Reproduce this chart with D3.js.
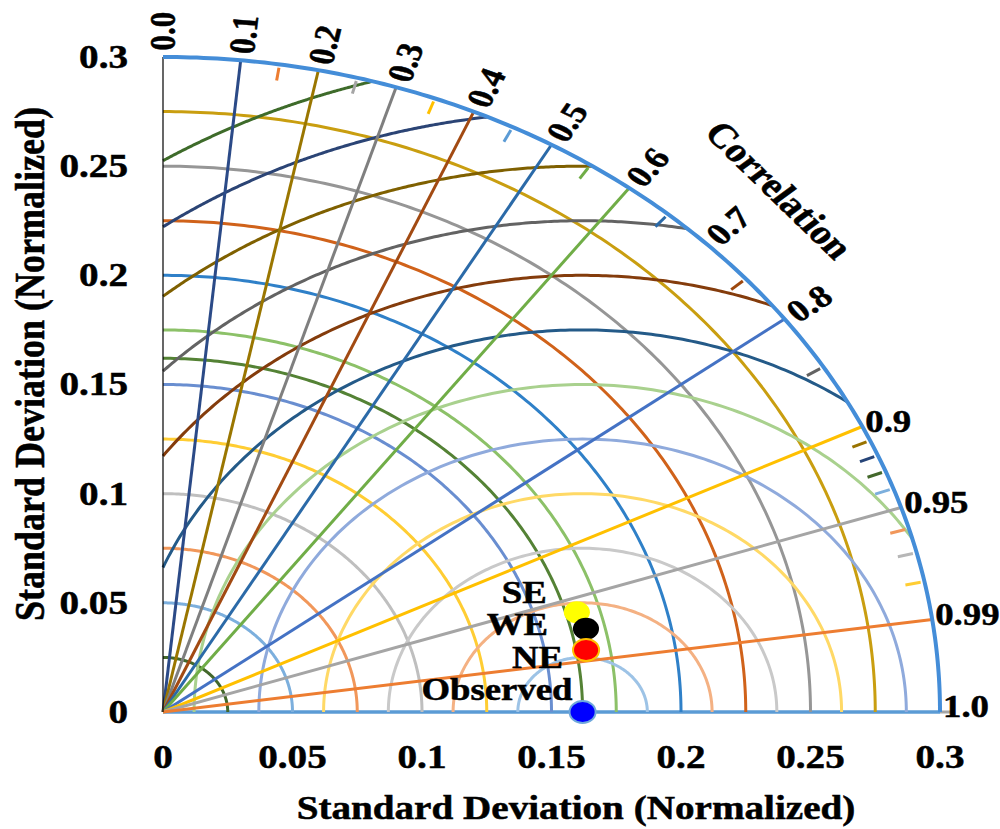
<!DOCTYPE html>
<html lang="en">
<head>
<meta charset="UTF-8">
<script src="https://d3js.org/d3.v7.min.js"></script>
<style>
  html, body { margin: 0; height: 100%; overflow: hidden; background: #fff; }
  text { font-family: "Liberation Serif", "Times New Roman", serif; font-weight: bold; fill: #000;
         stroke: #000; stroke-width: 0.5px; }
</style>
<title>Taylor diagram</title>
</head>
<body>
<svg id="svg"></svg>
<script>
// reference (observed) std and the grid of the diagram
const refStd = 0.162;
const maxStd = 0.3;

const stdArcs = [0.025, 0.05, 0.075, 0.1, 0.125, 0.15, 0.162, 0.175, 0.2, 0.225, 0.25, 0.275];
const stdColors = ['#43682B', '#7CAFDD', '#F1975A', '#BFBFBF', '#FFCD33', '#698ED0', '#548235',
                   '#8CC168', '#2F80C8', '#D0621A', '#969696', '#C99E10'];

const rmsArcs = [0.025, 0.05, 0.075, 0.1, 0.125, 0.15, 0.175, 0.2, 0.225, 0.25, 0.275, 0.3];
const rmsColors = ['#9DC3E6', '#F4B183', '#C9C9C9', '#FFD966', '#8FAADC', '#A9D18E',
                   '#245A88', '#843C0C', '#636363', '#7F6000', '#2B4475', '#3E6B2A'];

const corrLines = [0.1, 0.2, 0.3, 0.4, 0.5, 0.6, 0.8, 0.9, 0.95, 0.99];
const corrColors = ['#2B4A87', '#9A7600', '#7F7F7F', '#A24A12', '#2B6AA8', '#70AD47',
                    '#4472C4', '#FFC000', '#A5A5A5', '#ED7D31'];

const corrLabels = ['0.0', '0.1', '0.2', '0.3', '0.4', '0.5', '0.6', '0.7', '0.8',
                    '0.9', '0.95', '0.99', '1.0'];

const minorTicks = [0.15, 0.25, 0.35, 0.45, 0.55, 0.65, 0.75, 0.85, 0.91, 0.92, 0.93, 0.94, 0.96, 0.97, 0.98];
const minorColors = ['#ED7D31', '#A5A5A5', '#FFC000', '#5B9BD5', '#70AD47', '#2B6AA8', '#9E480E',
                     '#636363', '#997300', '#264478', '#43682B', '#7CAFDD', '#F1975A', '#B7B7B7', '#FFCD33'];

const axisTicks = [0, 0.05, 0.1, 0.15, 0.2, 0.25, 0.3];
const axisTickLabels = ['0', '0.05', '0.1', '0.15', '0.2', '0.25', '0.3'];

const sites = ['SE', 'WE', 'NE', 'Observed'];
const siteStd = [0.1662, 0.1677, 0.1658, 0.162];
const siteCorr = [0.9614, 0.9738, 0.9852, 1.0];
const siteFill = ['#FFFF00', '#000000', '#FF0000', '#0000FF'];
const siteStroke = ['none', 'none', '#FFC000', '#6FA8DC'];

// ---- layout ----
const width = 1000, height = 829;
const svg = d3.select('#svg').attr('width', width).attr('height', height);

const x = d3.scaleLinear().domain([0, maxStd]).range([163, 940]);
const y = d3.scaleLinear().domain([0, maxStd]).range([712, 57]);
const stretch = (x(1) - x(0)) / (y(0) - y(1));   // picture is wider than tall
const line = d3.line().x(d => x(d[0])).y(d => y(d[1]));
const deg = r => r * 180 / Math.PI;

const g = svg.append('g');

// std arcs around origin
const stdPts = r => d3.range(0, 181).map(i => {
  const t = Math.PI / 2 * i / 180;
  return [r * Math.cos(t), r * Math.sin(t)];
});

// rms arcs around the reference point, clipped by the outer arc and the y axis
const rmsPts = R => {
  let a0 = 0, a1 = Math.PI;
  if (refStd + R > maxStd) {
    const px = (maxStd * maxStd + refStd * refStd - R * R) / (2 * refStd);
    a0 = Math.atan2(Math.sqrt(maxStd * maxStd - px * px), px - refStd);
  }
  if (R > refStd) a1 = Math.atan2(Math.sqrt(R * R - refStd * refStd), -refStd);
  return d3.range(0, 181).map(i => {
    const a = a0 + (a1 - a0) * i / 180;
    return [refStd + R * Math.cos(a), R * Math.sin(a)];
  });
};

// x axis line (corr = 1)
g.append('line')
  .attr('x1', x(0)).attr('x2', x(maxStd)).attr('y1', y(0)).attr('y2', y(0))
  .attr('stroke', '#5B9BD5').attr('stroke-width', 3.5);
g.append('line')
  .attr('x1', x(maxStd)).attr('x2', x(maxStd) + 12).attr('y1', y(0)).attr('y2', y(0))
  .attr('stroke', '#A5A5A5').attr('stroke-width', 3);

g.selectAll('path.std').data(stdArcs).join('path')
  .attr('class', 'std')
  .attr('d', d => line(stdPts(d)))
  .attr('fill', 'none')
  .attr('stroke', (d, i) => stdColors[i])
  .attr('stroke-width', 3);

g.selectAll('path.rms').data(rmsArcs).join('path')
  .attr('class', 'rms')
  .attr('d', d => line(rmsPts(d)))
  .attr('fill', 'none')
  .attr('stroke', (d, i) => rmsColors[i])
  .attr('stroke-width', 3);

g.selectAll('path.corr').data(corrLines).join('path')
  .attr('class', 'corr')
  .attr('d', c => line([[0, 0], [maxStd * c, maxStd * Math.sqrt(1 - c * c)]]))
  .attr('stroke', (d, i) => corrColors[i])
  .attr('stroke-width', 3);

g.selectAll('path.minor').data(minorTicks).join('path')
  .attr('class', 'minor')
  .attr('d', c => {
    const s = Math.sqrt(1 - c * c);
    return line([[0.2925 * c, 0.2925 * s], [0.2985 * c, 0.2985 * s]]);
  })
  .attr('stroke', (d, i) => minorColors[i])
  .attr('stroke-width', 3);

// y axis
g.append('line')
  .attr('x1', x(0)).attr('x2', x(0)).attr('y1', y(0)).attr('y2', y(maxStd))
  .attr('stroke', '#000').attr('stroke-width', 1.2);

// outer arc
g.append('path')
  .attr('d', line(stdPts(maxStd)))
  .attr('fill', 'none')
  .attr('stroke', '#448DD8')
  .attr('stroke-width', 4);

// correlation labels
g.selectAll('text.clab').data(corrLabels).join('text')
  .attr('class', 'clab')
  .attr('font-size', 31)
  .attr('dominant-baseline', 'central')
  .attr('transform', s => {
    const c = +s, t = Math.acos(c);
    if (c < 0.85) {
      const r = 0.303;
      return `translate(${x(r * c)},${y(r * Math.sin(t))}) scale(${stretch},1) rotate(${-deg(t)})`;
    }
    return `translate(${x(maxStd * c) + 3},${y(maxStd * Math.sin(t)) - 5}) scale(${stretch},1)`;
  })
  .text(s => s);

g.append('text')
  .attr('font-size', 34)
  .attr('text-anchor', 'middle')
  .attr('dominant-baseline', 'central')
  .attr('transform', `translate(779,190) scale(${stretch},1) rotate(49)`)
  .text('Correlation');

// axis tick labels
g.selectAll('text.ylab').data(axisTicks).join('text')
  .attr('class', 'ylab')
  .attr('font-size', 33)
  .attr('text-anchor', 'end')
  .attr('dominant-baseline', 'central')
  .attr('transform', d => `translate(128,${y(d)}) scale(${stretch},1)`)
  .text((d, i) => axisTickLabels[i]);

g.selectAll('text.xlab').data(axisTicks).join('text')
  .attr('class', 'xlab')
  .attr('font-size', 33)
  .attr('text-anchor', 'middle')
  .attr('dominant-baseline', 'central')
  .attr('transform', d => `translate(${x(d)},757) scale(${stretch},1)`)
  .text((d, i) => axisTickLabels[i]);

g.append('text')
  .attr('font-size', 33)
  .attr('text-anchor', 'middle')
  .attr('dominant-baseline', 'central')
  .attr('transform', `translate(576,808) scale(${stretch},1)`)
  .text('Standard Deviation (Normalized)');

g.append('text')
  .attr('font-size', 36)
  .attr('text-anchor', 'middle')
  .attr('dominant-baseline', 'central')
  .attr('transform', `translate(30,364) scale(${stretch},1) rotate(-90)`)
  .text('Standard Deviation (Normalized)');

// points and their labels
const labelShift = [[-30, -20], [-38, -4], [-23, 8], [-10, -22]];
const px = i => x(siteStd[i] * siteCorr[i]);
const py = i => y(siteStd[i] * Math.sqrt(1 - siteCorr[i] * siteCorr[i]));
const order = [3, 0, 1, 2];

g.selectAll('ellipse.site').data(order).join('ellipse')
  .attr('class', 'site')
  .attr('cx', i => px(i))
  .attr('cy', i => py(i))
  .attr('rx', 11 * stretch)
  .attr('ry', 11)
  .attr('fill', i => siteFill[i])
  .attr('stroke', i => siteStroke[i])
  .attr('stroke-width', 2);

g.selectAll('text.site').data(d3.range(sites.length)).join('text')
  .attr('class', 'site')
  .attr('font-size', 31)
  .attr('text-anchor', 'end')
  .attr('dominant-baseline', 'central')
  .attr('transform', i => `translate(${px(i) + labelShift[i][0]},${py(i) + labelShift[i][1]}) scale(${stretch},1)`)
  .text(i => sites[i]);
</script>
</body>
</html>
